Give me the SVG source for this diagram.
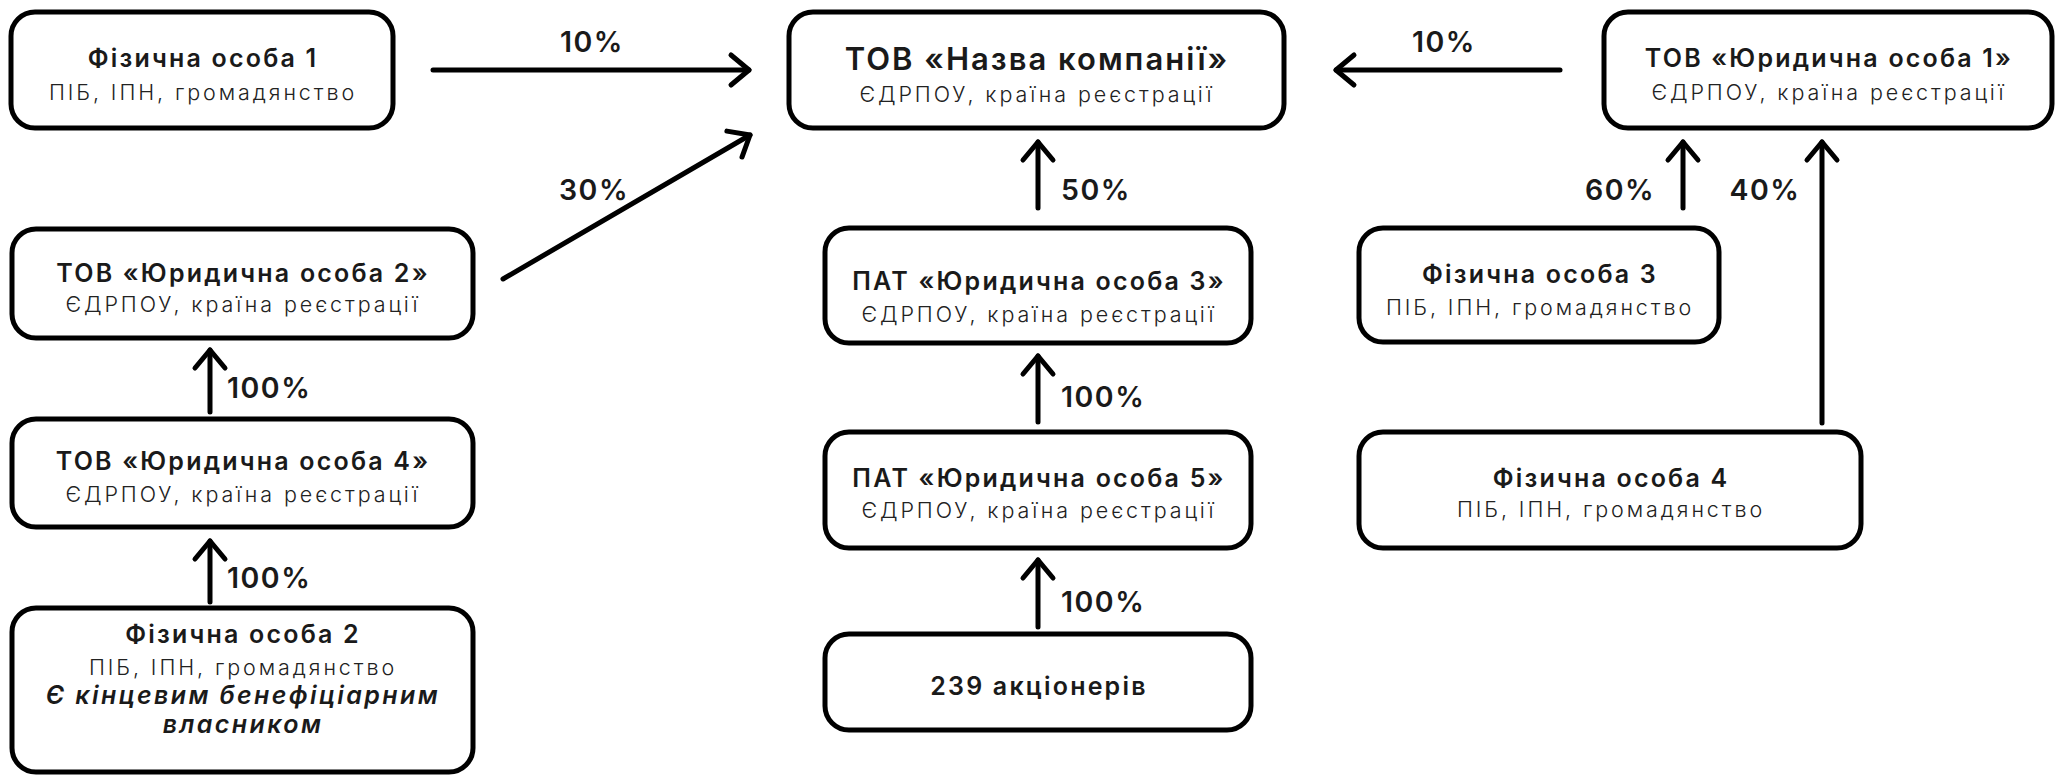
<svg xmlns="http://www.w3.org/2000/svg" width="2055" height="775" viewBox="0 0 2055 775">
<style>
.box{fill:#fff;stroke:#000;stroke-width:5}
.t{font-family:Inter,"Open Sans","DejaVu Sans",sans-serif;font-weight:600;font-size:25px;fill:#1a1a1a;text-anchor:middle;letter-spacing:2.2px}
.tm{font-size:31px;letter-spacing:2px}
.s{font-family:Inter,"Open Sans","DejaVu Sans",sans-serif;font-weight:300;font-size:21.5px;fill:#222;text-anchor:middle;letter-spacing:2.9px}
.i{font-family:Inter,"Open Sans","DejaVu Sans",sans-serif;font-weight:600;font-style:italic;font-size:25px;fill:#1a1a1a;text-anchor:middle;letter-spacing:2.4px}
.c{fill:none;stroke:#000;stroke-width:5;stroke-linecap:round}
.l{font-family:Inter,"Open Sans","DejaVu Sans",sans-serif;font-weight:600;font-size:28.5px;fill:#1a1a1a;letter-spacing:1.5px}
</style>
<defs>
<marker id="ah" markerUnits="userSpaceOnUse" viewBox="-25 -20 30 40" refX="0" refY="0" markerWidth="30" markerHeight="40" orient="auto">
<path d="M-18,-15 L0,0 L-18,15" fill="none" stroke="#000" stroke-width="5" stroke-linecap="round" stroke-linejoin="round"/>
</marker>
</defs>
<rect width="2055" height="775" fill="#fff"/>
<g id="connectors">
<line class="c" x1="433" y1="70" x2="749" y2="70" marker-end="url(#ah)"/>
<line class="c" x1="503" y1="279" x2="750" y2="135" marker-end="url(#ah)"/>
<line class="c" x1="1560" y1="70" x2="1336" y2="70" marker-end="url(#ah)"/>
<line class="c" x1="1038" y1="208" x2="1038" y2="142" marker-end="url(#ah)"/>
<line class="c" x1="1038" y1="422" x2="1038" y2="356" marker-end="url(#ah)"/>
<line class="c" x1="1038" y1="627" x2="1038" y2="560" marker-end="url(#ah)"/>
<line class="c" x1="210" y1="412" x2="210" y2="350" marker-end="url(#ah)"/>
<line class="c" x1="210" y1="602" x2="210" y2="541" marker-end="url(#ah)"/>
<line class="c" x1="1683" y1="208" x2="1683" y2="142" marker-end="url(#ah)"/>
<line class="c" x1="1822" y1="423" x2="1822" y2="142" marker-end="url(#ah)"/>
<text class="l" x="592" y="52" text-anchor="middle">10%</text>
<text class="l" x="594" y="200" text-anchor="middle">30%</text>
<text class="l" x="1444" y="52" text-anchor="middle">10%</text>
<text class="l" x="1061" y="200">50%</text>
<text class="l" x="1061" y="407">100%</text>
<text class="l" x="1061" y="612">100%</text>
<text class="l" x="227" y="398">100%</text>
<text class="l" x="227" y="588">100%</text>
<text class="l" x="1620" y="200" text-anchor="middle">60%</text>
<text class="l" x="1765" y="200" text-anchor="middle">40%</text>
</g>
<g id="f1">
<rect class="box" x="11" y="12" width="382" height="116" rx="24"/>
<text class="t" x="203" y="67">Фізична особа 1</text>
<text class="s" x="203" y="100">ПІБ, ІПН, громадянство</text>
</g>
<g id="main">
<rect class="box" x="789" y="12" width="495" height="116" rx="24"/>
<text class="t tm" x="1037" y="70">ТОВ «Назва компанії»</text>
<text class="s" x="1037" y="102">ЄДРПОУ, країна реєстрації</text>
</g>
<g id="u1">
<rect class="box" x="1604" y="12" width="448" height="116" rx="24"/>
<text class="t" x="1829" y="67">ТОВ «Юридична особа 1»</text>
<text class="s" x="1829" y="100">ЄДРПОУ, країна реєстрації</text>
</g>
<g id="u2">
<rect class="box" x="12" y="229" width="461" height="109" rx="24"/>
<text class="t" x="243" y="282">ТОВ «Юридична особа 2»</text>
<text class="s" x="243" y="312">ЄДРПОУ, країна реєстрації</text>
</g>
<g id="u4">
<rect class="box" x="12" y="419" width="461" height="108" rx="24"/>
<text class="t" x="243" y="470">ТОВ «Юридична особа 4»</text>
<text class="s" x="243" y="502">ЄДРПОУ, країна реєстрації</text>
</g>
<g id="f2">
<rect class="box" x="12" y="608" width="461" height="164" rx="24"/>
<text class="t" x="243" y="643">Фізична особа 2</text>
<text class="s" x="243" y="675">ПІБ, ІПН, громадянство</text>
<text class="i" x="243" y="704">Є кінцевим бенефіціарним</text>
<text class="i" x="243" y="733">власником</text>
</g>
<g id="u3">
<rect class="box" x="825" y="228" width="426" height="115" rx="24"/>
<text class="t" x="1039" y="290">ПАТ «Юридична особа 3»</text>
<text class="s" x="1039" y="322">ЄДРПОУ, країна реєстрації</text>
</g>
<g id="u5">
<rect class="box" x="825" y="432" width="426" height="116" rx="24"/>
<text class="t" x="1039" y="487">ПАТ «Юридична особа 5»</text>
<text class="s" x="1039" y="518">ЄДРПОУ, країна реєстрації</text>
</g>
<g id="sh">
<rect class="box" x="825" y="634" width="426" height="96" rx="24"/>
<text class="t" x="1039" y="695">239 акціонерів</text>
</g>
<g id="f3">
<rect class="box" x="1359" y="228" width="360" height="114" rx="24"/>
<text class="t" x="1540" y="283">Фізична особа 3</text>
<text class="s" x="1540" y="315">ПІБ, ІПН, громадянство</text>
</g>
<g id="f4">
<rect class="box" x="1359" y="432" width="502" height="116" rx="24"/>
<text class="t" x="1611" y="487">Фізична особа 4</text>
<text class="s" x="1611" y="517">ПІБ, ІПН, громадянство</text>
</g>
</svg>
